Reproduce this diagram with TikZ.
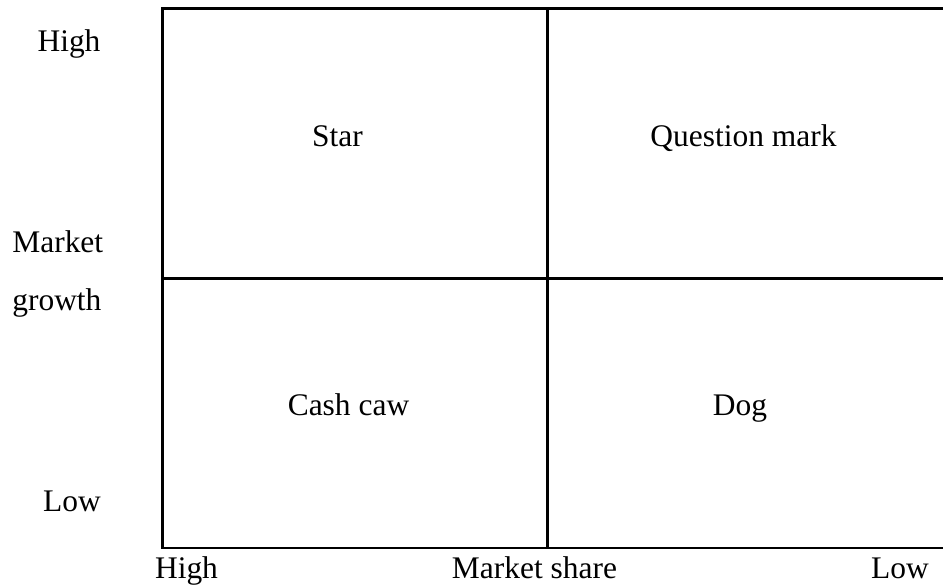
\documentclass[tikz,border=0pt]{standalone}
\usepackage{fontspec}
\setmainfont{Liberation Serif}
\usepackage{tikz}

\tikzset{
  grid line/.style={line width=1.7pt, black},
  lbl/.style={anchor=base, inner sep=0pt}
}

\begin{document}
\begin{tikzpicture}[font=\fontsize{17.9}{21}\selectfont]
\useasboundingbox (0,0) rectangle (18.86,11.7);

% --- matrix frame (right side runs off the page) ---
\coordinate (tl) at (3.25,11.52);
\coordinate (bl) at (3.25,0.74);
\coordinate (tr) at (18.86,11.52);
\coordinate (br) at (18.86,0.74);
\draw[grid line] (tr) -- (tl) -- (bl) -- (br);

% --- dividers ---
\coordinate (mt) at (10.94,11.52);
\coordinate (mb) at (10.94,0.74);
\coordinate (ml) at (3.25,6.12);
\coordinate (mr) at (18.86,6.12);
\draw[grid line] (mt) -- (mb);
\draw[grid line] (ml) -- (mr);

% --- quadrants ---
\node[lbl] (star) at (6.75,8.76) {Star};
\node[lbl] (qmark) at (14.87,8.76) {Question mark};
\node[lbl] (cow) at (6.97,3.38) {Cash caw};
\node[lbl] (dog) at (14.8,3.38) {Dog};

% --- vertical axis ---
\node[lbl] (ghigh) at (1.38,10.66) {High};
\node[lbl, anchor=base west] (gmarket) at (0.24,6.64) {Market};
\node[lbl, anchor=base west] (ggrowth) at (0.24,5.48) {growth};
\node[lbl] (glow) at (1.44,1.46) {Low};

% --- horizontal axis ---
\node[lbl] (shigh) at (3.73,0.12) {High};
\node[lbl] (sname) at (10.69,0.12) {Market share};
\node[lbl] (slow) at (18.0,0.12) {Low};
\end{tikzpicture}
\end{document}
